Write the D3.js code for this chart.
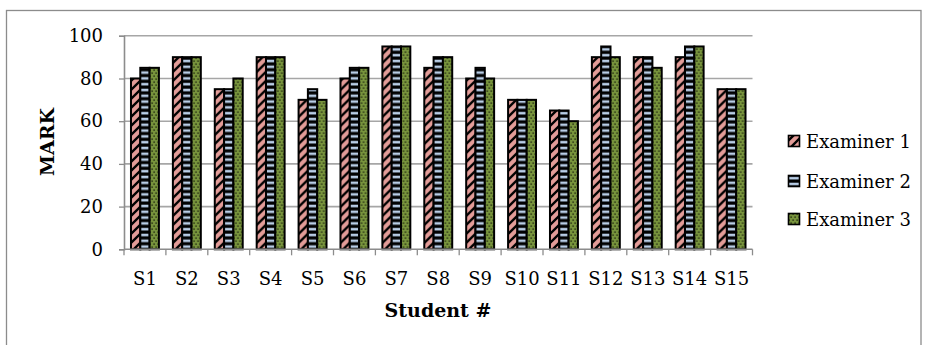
<!DOCTYPE html>
<html>
<head>
<meta charset="utf-8">
<script src="https://cdn.jsdelivr.net/npm/d3@7"></script>
<style>
  html, body { margin: 0; padding: 0; background: #fff; }
  svg { display: block; }
  text { font-family: "DejaVu Serif", "Liberation Serif", serif; fill: #000; }
</style>
</head>
<body>
<div id="chart"></div>
<script>
// Marks awarded to each student by three examiners
const students = ["S1","S2","S3","S4","S5","S6","S7","S8","S9","S10","S11","S12","S13","S14","S15"];
const examiner1 = [80, 90, 75, 90, 70, 80, 95, 85, 80, 70, 65, 90, 90, 90, 75];
const examiner2 = [85, 90, 75, 90, 75, 85, 95, 90, 85, 70, 65, 95, 90, 95, 75];
const examiner3 = [85, 90, 80, 90, 70, 85, 95, 90, 80, 70, 60, 90, 85, 95, 75];
const seriesNames = ["Examiner 1", "Examiner 2", "Examiner 3"];
const yTicks = [0, 20, 40, 60, 80, 100];

const series = [examiner1, examiner2, examiner3];

const W = 927, H = 345;
const plot = { left: 124, right: 752.5, top: 35.8, bottom: 249.3 };

const svg = d3.select("#chart").append("svg")
  .attr("width", W).attr("height", H);

// Fill patterns: pink with diagonal stripes, blue with horizontal stripes, green with dots
const defs = svg.append("defs");

const p1 = defs.append("pattern").attr("id", "pat1")
  .attr("patternUnits", "userSpaceOnUse").attr("width", 9).attr("height", 9);
p1.append("rect").attr("width", 9).attr("height", 9).attr("fill", "#e39c98");
p1.append("path").attr("d", "M-1,10 L10,-1 M-3,3 L3,-3 M6,12 L12,6")
  .attr("stroke", "#000").attr("stroke-width", 2.3);

const p2 = defs.append("pattern").attr("id", "pat2")
  .attr("patternUnits", "userSpaceOnUse").attr("width", 8).attr("height", 5.8);
p2.append("rect").attr("width", 8).attr("height", 5.8).attr("fill", "#000");
p2.append("rect").attr("y", 1.7).attr("width", 8).attr("height", 2.6).attr("fill", "#b8cde6");

const p3 = defs.append("pattern").attr("id", "pat3")
  .attr("patternUnits", "userSpaceOnUse").attr("width", 4).attr("height", 6);
p3.append("rect").attr("width", 4).attr("height", 6).attr("fill", "#77933c");
p3.append("rect").attr("x", 0.5).attr("y", 0.5).attr("width", 1.2).attr("height", 1.2).attr("fill", "#000");
p3.append("rect").attr("x", 2.5).attr("y", 3.5).attr("width", 1.2).attr("height", 1.2).attr("fill", "#000");

const fills = ["url(#pat1)", "url(#pat2)", "url(#pat3)"];

// Outer chart frame
svg.append("rect")
  .attr("x", 6.5).attr("y", 10.5).attr("width", 914.5).attr("height", 360)
  .attr("fill", "none").attr("stroke", "#8c8c8c").attr("stroke-width", 1.3);

const x = d3.scaleBand().domain(students).range([plot.left, plot.right]).padding(0);
const y = d3.scaleLinear().domain([0, 100]).range([plot.bottom, plot.top]);

// Horizontal gridlines
svg.append("g").selectAll("line").data(yTicks.filter(d => d > 0)).join("line")
  .attr("x1", plot.left).attr("x2", plot.right)
  .attr("y1", d => y(d)).attr("y2", d => y(d))
  .attr("stroke", "#a6a6a6").attr("stroke-width", 1.6);

// Y axis
const yAxis = svg.append("g").attr("transform", `translate(${plot.left},0)`)
  .call(d3.axisLeft(y).tickValues(yTicks).tickSize(5).tickPadding(16));
yAxis.select(".domain").attr("stroke", "#8c8c8c").attr("stroke-width", 1.6);
yAxis.selectAll(".tick line").attr("stroke", "#8c8c8c").attr("stroke-width", 1.3);
yAxis.selectAll("text").attr("font-size", 18).attr("font-family", "DejaVu Serif").attr("fill", "#000");

// Bars
const bw = x.bandwidth() / 4.5;
const groups = svg.append("g").selectAll("g").data(students).join("g")
  .attr("transform", d => `translate(${x(d) + x.bandwidth() / 2 - 1.5 * bw},0)`);
series.forEach((vals, si) => {
  groups.append("rect")
    .attr("x", si * bw)
    .attr("y", (d, i) => y(vals[i]))
    .attr("width", bw)
    .attr("height", (d, i) => y(0) - y(vals[i]))
    .attr("fill", fills[si])
    .attr("stroke", "#000").attr("stroke-width", 2);
});

// X axis with boundary ticks
const xAxisG = svg.append("g").attr("transform", `translate(0,${plot.bottom})`);
xAxisG.append("line").attr("x1", plot.left).attr("x2", plot.right)
  .attr("stroke", "#8c8c8c").attr("stroke-width", 1.6);
xAxisG.selectAll("line.tk").data(d3.range(students.length + 1)).join("line")
  .attr("class", "tk")
  .attr("x1", i => plot.left + i * x.bandwidth()).attr("x2", i => plot.left + i * x.bandwidth())
  .attr("y1", 0).attr("y2", 6)
  .attr("stroke", "#8c8c8c").attr("stroke-width", 1.3);
xAxisG.selectAll("text").data(students).join("text")
  .attr("x", d => x(d) + x.bandwidth() / 2).attr("y", 36)
  .attr("text-anchor", "middle").attr("font-size", 18)
  .text(d => d);

// Axis titles
svg.append("text")
  .attr("transform", "translate(54,142) rotate(-90)")
  .attr("text-anchor", "middle").attr("font-size", 19).attr("font-weight", "bold")
  .text("MARK");
svg.append("text")
  .attr("x", 438).attr("y", 317)
  .attr("text-anchor", "middle").attr("font-size", 19).attr("font-weight", "bold")
  .text("Student #");

// Legend
const legendY = [141, 181, 219];
const legend = svg.append("g").selectAll("g").data(seriesNames).join("g")
  .attr("transform", (d, i) => `translate(788,${legendY[i]})`);
legend.append("rect")
  .attr("x", 0.5).attr("y", -5.5).attr("width", 11).attr("height", 11)
  .attr("fill", (d, i) => fills[i]).attr("stroke", "#000").attr("stroke-width", 1.6);
legend.append("text")
  .attr("x", 18).attr("y", 6.5).attr("font-size", 18)
  .text(d => d);
</script>
</body>
</html>
